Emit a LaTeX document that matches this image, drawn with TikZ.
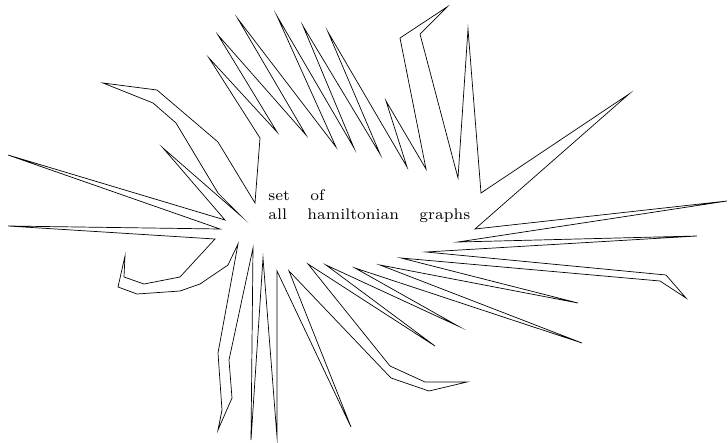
\documentclass[tikz,border=0pt]{standalone}
\begin{document}
\begin{tikzpicture}[x=1pt,y=-1pt,
  outline/.style={draw=black,line width=0.7pt,line join=miter,miter limit=30},
  word/.style={anchor=base west,inner sep=0pt,font=\fontsize{7}{8}\selectfont,scale=2.2,transform shape}]
\useasboundingbox (0,0) rectangle (728,442);
\draw[outline] (228,265) -- (238,244) -- (218,353) -- (222,410) -- (218,430) -- (232,398) -- (229,360)
 -- (253,248) -- (251,440) -- (263,258) -- (277,437) -- (277,271) -- (351,427) -- (289,271)
 -- (391,378) -- (429,391) -- (467,382) -- (425,382) -- (390,366) -- (308,264)
 -- (435,346) -- (326,265) -- (458,326) -- (355,268) -- (582,343) -- (380,265)
 -- (578,303) -- (401,258) -- (660,281) -- (686,298) -- (666,275) -- (426,252)
 -- (697,236) -- (458,242) -- (727,201) -- (475,229) -- (629,94) -- (481,193)
 -- (468,29) -- (458,178) -- (420,34) -- (447,7) -- (400,38) -- (426,169)
 -- (386,101) -- (407,167) -- (328,32) -- (380,154) -- (303,26) -- (354,148)
 -- (277,16) -- (336,147) -- (238,19) -- (306,135) -- (218,35) -- (277,132)
 -- (209,58) -- (260,138) -- (255,203) -- (218,142) -- (157,90) -- (103,83)
 -- (153,103) -- (176,123) -- (218,193) -- (241,216) -- (163,148) -- (225,220)
 -- (8,155) -- (220,229) -- (8,226) -- (215,239) -- (180,277) -- (144,284)
 -- (124,277) -- (125,256) -- (118,287) -- (137,294) -- (180,291) -- (200,284) -- cycle;
\node[word] (set) at (268,200) {set};
\node[word] (of) at (310,200) {of};
\node[word] (all) at (268,219) {all};
\node[word] (ham) at (307,219) {hamiltonian};
\node[word] (graphs) at (419,219) {graphs};
\end{tikzpicture}
\end{document}
